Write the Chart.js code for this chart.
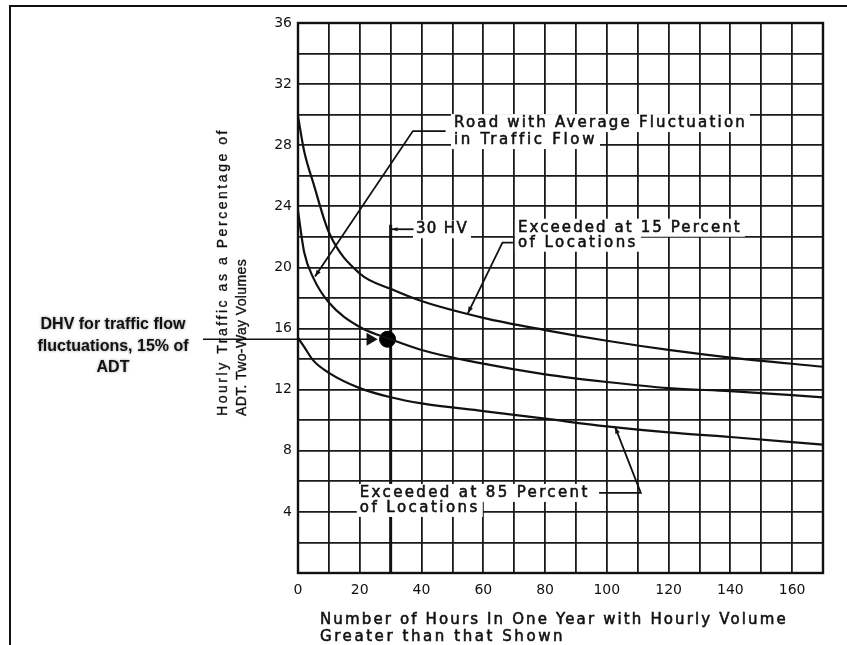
<!DOCTYPE html>
<html>
<head>
<meta charset="utf-8">
<script src="https://cdn.jsdelivr.net/npm/chart.js@4.4.0/dist/chart.umd.min.js"></script>
<style>
  html, body { margin: 0; padding: 0; background: #fff; }
  #wrap { width: 847px; height: 645px; }
</style>
</head>
<body>
<div id="wrap"><canvas id="chart" width="847" height="645"></canvas></div>
<script>
// Hours in one year (x) where the curves were read
const hours = [0, 2, 5, 10, 20, 30, 40, 60, 80, 100, 120, 140, 170];
// Hourly traffic as % of ADT for each curve
const exceeded15 = [29.9, 27.6, 25.5, 22.3, 19.6, 18.6, 17.8, 16.7, 15.9, 15.2, 14.6, 14.1, 13.5];
const averageRoad = [23.7, 21.0, 19.3, 17.7, 16.1, 15.3, 14.6, 13.7, 13.0, 12.5, 12.1, 11.9, 11.5];
const exceeded85 = [15.4, 14.8, 13.9, 13.1, 12.1, 11.5, 11.1, 10.6, 10.1, 9.6, 9.2, 8.9, 8.4];
// DHV marker
const dhvHours = [29];
const dhvPercent = [15.3];
// tick labels shown on the axes
const xTickLabels = [0, 20, 40, 60, 80, 100, 120, 140, 160];
const yTickLabels = [4, 8, 12, 16, 20, 24, 28, 32, 36];

const FONT = '"DejaVu Sans", sans-serif';

function toPoints(xs, ys) {
    return xs.map((x, i) => ({ x: x, y: ys[i] }));
}

function arrow(ctx, pts, head) {
    ctx.beginPath();
    ctx.moveTo(pts[0][0], pts[0][1]);
    for (let i = 1; i < pts.length; i++) ctx.lineTo(pts[i][0], pts[i][1]);
    ctx.stroke();
    const [x1, y1] = pts[pts.length - 2];
    const [x2, y2] = pts[pts.length - 1];
    const a = Math.atan2(y2 - y1, x2 - x1);
    ctx.beginPath();
    ctx.moveTo(x2, y2);
    ctx.lineTo(x2 - head * Math.cos(a - 0.35), y2 - head * Math.sin(a - 0.35));
    ctx.lineTo(x2 - head * Math.cos(a + 0.35), y2 - head * Math.sin(a + 0.35));
    ctx.closePath();
    ctx.fill();
}

// draw text stretched (letter spacing) to a target width, slightly thickened
function drafted(ctx, t, x, y, width, size, thick, family) {
    ctx.font = size + 'px ' + (family || FONT);
    ctx.letterSpacing = '0px';
    const w0 = ctx.measureText(t).width;
    const sp = Math.max(0, (width - w0) / t.length);
    ctx.letterSpacing = sp.toFixed(2) + 'px';
    ctx.fillText(t, x, y);
    ctx.lineWidth = thick === undefined ? 0.55 : thick;
    if (ctx.lineWidth > 0.05) ctx.strokeText(t, x, y);
    ctx.letterSpacing = '0px';
}

function label(ctx, lines, x, y, gap) {
    ctx.textAlign = 'left';
    ctx.textBaseline = 'middle';
    lines.forEach((l, i) => {
        ctx.fillStyle = '#fff';
        ctx.fillRect(x - 3, y + i * gap - 9, l[1] + 6, 18);
        ctx.fillStyle = '#111';
        ctx.strokeStyle = '#111';
        drafted(ctx, l[0], x, y + i * gap, l[1], 15);
    });
}

const notes = {
    id: 'notes',
    beforeDatasetsDraw(chart) {
        const ctx = chart.ctx, xs = chart.scales.x, ys = chart.scales.y;
        // bold 30th highest hour line
        ctx.save();
        ctx.strokeStyle = '#111';
        ctx.lineWidth = 3;
        ctx.beginPath();
        ctx.moveTo(xs.getPixelForValue(30), ys.getPixelForValue(22.8));
        ctx.lineTo(xs.getPixelForValue(30), ys.getPixelForValue(0));
        ctx.stroke();
        ctx.restore();
    },
    afterDatasetsDraw(chart) {
        const ctx = chart.ctx, xs = chart.scales.x, ys = chart.scales.y;
        const X = v => xs.getPixelForValue(v), Y = v => ys.getPixelForValue(v);
        ctx.save();
        ctx.strokeStyle = '#111';
        ctx.fillStyle = '#111';

        // plot frame
        const a = chart.chartArea;
        ctx.lineWidth = 2.4;
        ctx.strokeRect(a.left, a.top, a.right - a.left, a.bottom - a.top);

        // Road with average fluctuation
        const ry = Y(29.45);
        label(ctx, [['Road with Average Fluctuation', 293], ['in Traffic Flow', 143]], X(50.5), ry, 17);
        ctx.lineWidth = 1.8;
        arrow(ctx, [[X(47.8), ry + 8], [X(37.2), ry + 8], [X(5.5), Y(19.4)]], 7);

        // 30 HV
        const hy = Y(22.5);
        label(ctx, [['30 HV', 52]], X(38.2), hy, 0);
        ctx.lineWidth = 1.8;
        arrow(ctx, [[X(37.4), hy], [X(30.4), hy]], 6);

        // Exceeded at 15 percent
        const fy = Y(22.6);
        label(ctx, [['Exceeded at 15 Percent', 224], ['of Locations', 120]], X(71.2), fy, 15);
        ctx.lineWidth = 1.8;
        arrow(ctx, [[X(69.6), fy + 15], [X(66.2), fy + 15], [X(55), Y(17.0)]], 7);

        // Exceeded at 85 percent
        const ey = Y(5.24);
        label(ctx, [['Exceeded at 85 Percent', 230], ['of Locations', 120]], X(20), ey, 15);
        ctx.lineWidth = 1.8;
        arrow(ctx, [[X(97.5), ey], [X(111), ey], [X(102.7), Y(9.55)]], 7);

        // DHV pointer
        const dy = Y(dhvPercent[0]);
        ctx.lineWidth = 1.6;
        ctx.beginPath();
        ctx.moveTo(203, dy);
        ctx.lineTo(X(23), dy);
        ctx.stroke();
        ctx.beginPath();
        ctx.moveTo(X(25.8), dy);
        ctx.lineTo(X(22.2), dy - 6.5);
        ctx.lineTo(X(22.2), dy + 6.5);
        ctx.closePath();
        ctx.fill();

        ctx.restore();
    },
    afterDraw(chart) {
        const ctx = chart.ctx;
        ctx.save();
        ctx.fillStyle = '#111';
        ctx.strokeStyle = '#111';

        // outer frame of the figure
        ctx.lineWidth = 2;
        ctx.beginPath();
        ctx.moveTo(10, 645);
        ctx.lineTo(10, 6);
        ctx.lineTo(847, 6);
        ctx.stroke();

        // y axis title, two rotated lines
        const yFam = '"Liberation Sans", Arial, sans-serif';
        ctx.textAlign = 'left';
        ctx.textBaseline = 'middle';
        ctx.save();
        ctx.translate(223, 416);
        ctx.rotate(-Math.PI / 2);
        drafted(ctx, 'Hourly Traffic as a Percentage of', 0, 0, 288, 14, 0.35, yFam);
        ctx.restore();
        ctx.save();
        ctx.translate(242, 416);
        ctx.rotate(-Math.PI / 2);
        drafted(ctx, 'ADT. Two-Way Volumes', 0, 0, 157, 14, 0.35, yFam);
        ctx.restore();

        // x axis title
        drafted(ctx, 'Number of Hours In One Year with Hourly Volume', 320, 620, 468, 15);
        drafted(ctx, 'Greater than that Shown', 320, 637, 245, 15);

        // DHV note
        ctx.font = 'bold 16px "Liberation Sans", Arial, sans-serif';
        ctx.textAlign = 'center';
        ctx.shadowColor = 'rgba(0,0,0,0.4)';
        ctx.shadowBlur = 3;
        ctx.fillText('DHV for traffic flow', 113, 325);
        ctx.fillText('fluctuations, 15% of', 113, 347);
        ctx.fillText('ADT', 113, 368);
        ctx.restore();
    }
};

const lineStyle = {
    borderColor: '#111',
    borderWidth: 2.2,
    pointRadius: 0,
    fill: false,
    cubicInterpolationMode: 'monotone'
};

const ctx = document.getElementById('chart').getContext('2d');
const chart = new Chart(ctx, {
    type: 'line',
    data: {
        datasets: [
            Object.assign({ label: 'Exceeded at 15 Percent of Locations', data: toPoints(hours, exceeded15) }, lineStyle),
            Object.assign({ label: 'Road with Average Fluctuation in Traffic Flow', data: toPoints(hours, averageRoad) }, lineStyle),
            Object.assign({ label: 'Exceeded at 85 Percent of Locations', data: toPoints(hours, exceeded85) }, lineStyle),
            {
                label: 'DHV',
                data: toPoints(dhvHours, dhvPercent),
                showLine: false,
                pointRadius: 8,
                pointBackgroundColor: '#000',
                pointBorderColor: '#000'
            }
        ]
    },
    options: {
        responsive: false,
        animation: false,
        layout: { padding: { left: 258, right: 24, top: 23, bottom: 0 } },
        plugins: {
            legend: { display: false },
            tooltip: { enabled: false }
        },
        scales: {
            x: {
                type: 'linear',
                min: 0,
                max: 170,
                afterFit: s => { s.height = 72; },
                grid: { color: '#1a1a1a', lineWidth: 1.8, drawTicks: false },
                border: { color: '#111', width: 2 },
                ticks: {
                    stepSize: 10,
                    padding: 9,
                    color: '#111',
                    font: { family: FONT, size: 14 },
                    maxRotation: 0,
                    autoSkip: false,
                    callback: v => xTickLabels.includes(v) ? String(v) : ''
                }
            },
            y: {
                min: 0,
                max: 36,
                afterFit: s => { s.width = 40; },
                grid: { color: '#1a1a1a', lineWidth: 1.8, drawTicks: false },
                border: { color: '#111', width: 2 },
                ticks: {
                    stepSize: 2,
                    padding: 6,
                    color: '#111',
                    font: { family: FONT, size: 14 },
                    autoSkip: false,
                    callback: v => yTickLabels.includes(v) ? String(v) : ''
                }
            }
        }
    },
    plugins: [notes]
});
</script>
</body>
</html>
